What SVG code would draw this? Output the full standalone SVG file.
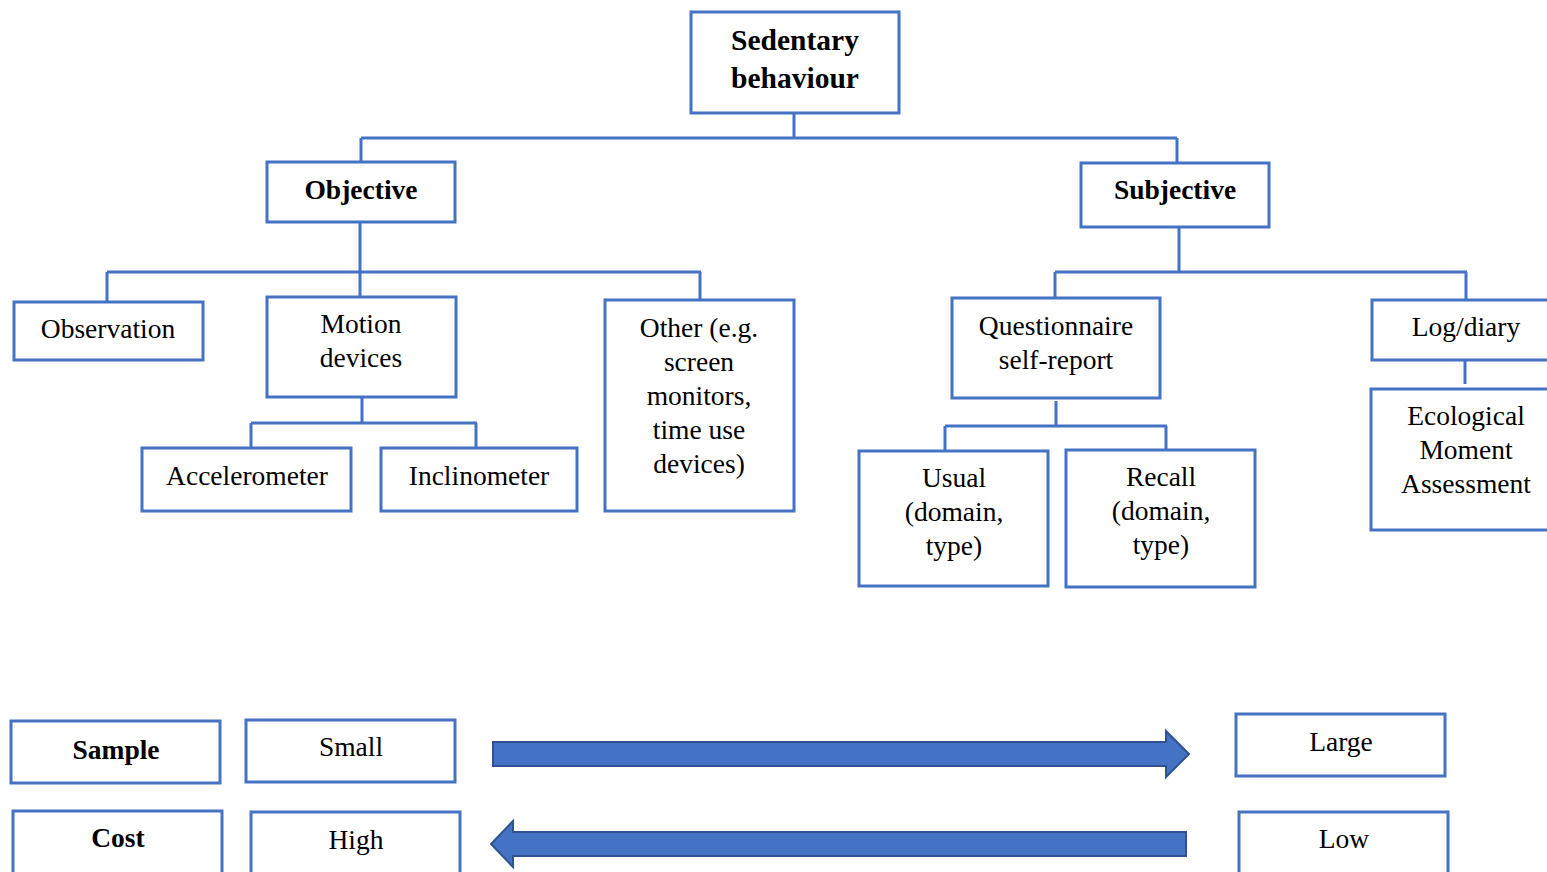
<svg xmlns="http://www.w3.org/2000/svg" width="1547" height="872" viewBox="0 0 1547 872">
<style>
.b{fill:#fff;stroke:#4472C4;stroke-width:3}
.c{fill:none;stroke:#4472C4;stroke-width:3}
text{font-family:"Liberation Serif","Times New Roman",serif;font-size:27.5px;fill:#000;text-anchor:middle}
.h{font-weight:bold;font-size:27.5px}
.t{font-size:29.5px}
.a{fill:#4472C4;stroke:#2F528F;stroke-width:2}
</style>
<rect width="1547" height="872" fill="#fff"/>
<g id="connectors">
<path class="c" d="M794,113V138M361,138H1177M361,138V162M1177,138V163"/>
<path class="c" d="M360,222V272M107,272H701M107,272V302M360,272V297M700,272V300"/>
<path class="c" d="M362,397V423M251,423H477M251,423V448M476,423V448"/>
<path class="c" d="M1179,227V272M1055,272H1467M1055,272V298M1466,272V300"/>
<path class="c" d="M1056,401V426M945,426H1167M945,426V451M1166,426V450"/>
<path class="c" d="M1465,360V384"/>
</g>
<g id="n-sedentary"><rect class="b" x="691" y="12" width="208" height="101"/><text class="h t" x="795" y="50">Sedentary</text><text class="h t" x="795" y="88">behaviour</text></g>
<g id="n-objective"><rect class="b" x="267" y="162" width="188" height="60"/><text class="h" x="361" y="199">Objective</text></g>
<g id="n-subjective"><rect class="b" x="1081" y="163" width="188" height="64"/><text class="h" x="1175" y="199">Subjective</text></g>
<g id="n-observation"><rect class="b" x="14" y="302" width="189" height="58"/><text x="108" y="338">Observation</text></g>
<g id="n-motion"><rect class="b" x="267" y="297" width="189" height="100"/><text x="361" y="333">Motion</text><text x="361" y="367">devices</text></g>
<g id="n-accelerometer"><rect class="b" x="142" y="448" width="209" height="63"/><text x="247" y="485">Accelerometer</text></g>
<g id="n-inclinometer"><rect class="b" x="381" y="448" width="196" height="63"/><text x="479" y="485">Inclinometer</text></g>
<g id="n-other"><rect class="b" x="605" y="300" width="189" height="211"/><text x="699" y="337">Other (e.g.</text><text x="699" y="371">screen</text><text x="699" y="405">monitors,</text><text x="699" y="439">time use</text><text x="699" y="473">devices)</text></g>
<g id="n-questionnaire"><rect class="b" x="952" y="298" width="208" height="100"/><text x="1056" y="335">Questionnaire</text><text x="1056" y="369">self-report</text></g>
<g id="n-usual"><rect class="b" x="859" y="451" width="189" height="135"/><text x="954" y="487">Usual</text><text x="954" y="521">(domain,</text><text x="954" y="555">type)</text></g>
<g id="n-recall"><rect class="b" x="1066" y="450" width="189" height="137"/><text x="1161" y="486">Recall</text><text x="1161" y="520">(domain,</text><text x="1161" y="554">type)</text></g>
<g id="n-logdiary"><rect class="b" x="1372" y="300" width="190" height="60"/><text x="1466" y="336">Log/diary</text></g>
<g id="n-ema"><rect class="b" x="1371" y="389" width="190" height="141"/><text x="1466" y="425">Ecological</text><text x="1466" y="459">Moment</text><text x="1466" y="493">Assessment</text></g>
<g id="n-sample"><rect class="b" x="11" y="721" width="209" height="62"/><text class="h" x="116" y="759">Sample</text></g>
<g id="n-small"><rect class="b" x="246" y="720" width="209" height="62"/><text x="351" y="756">Small</text></g>
<g id="n-large"><rect class="b" x="1236" y="714" width="209" height="62"/><text x="1341" y="751">Large</text></g>
<g id="n-cost"><rect class="b" x="13" y="811" width="209" height="70"/><text class="h" x="118" y="847">Cost</text></g>
<g id="n-high"><rect class="b" x="251" y="812" width="209" height="70"/><text x="356" y="849">High</text></g>
<g id="n-low"><rect class="b" x="1239" y="812" width="209" height="70"/><text x="1344" y="848">Low</text></g>
<g id="arrows">
<polygon class="a" points="493,742 1166,742 1166,731 1189,754 1166,777 1166,766 493,766"/>
<polygon class="a" points="1186,832 513,832 513,821 491,844 513,867 513,856 1186,856"/>
</g>
</svg>
